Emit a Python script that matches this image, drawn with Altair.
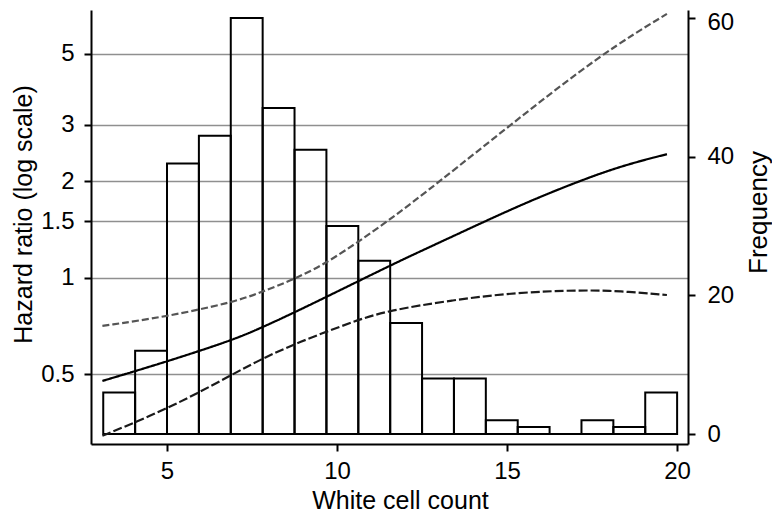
import altair as alt
import pandas as pd

# Histogram of white cell count (frequency, right axis)
bin_lo = [3.125, 4.0625, 5.0, 5.9375, 6.875, 7.8125, 8.75, 9.6875, 10.625,
          11.5625, 12.5, 13.4375, 14.375, 15.3125, 16.25, 17.1875, 18.125, 19.0625]
bin_hi = [4.0625, 5.0, 5.9375, 6.875, 7.8125, 8.75, 9.6875, 10.625, 11.5625,
          12.5, 13.4375, 14.375, 15.3125, 16.25, 17.1875, 18.125, 19.0625, 20.0]
freq = [6, 12, 39, 43, 60, 47, 41, 30, 25, 16, 8, 8, 2, 1, 0, 2, 1, 6]

# Hazard ratio curve and confidence limits (log scale, left axis)
hr_x = [3.1, 5.0, 6.9, 7.7, 8.8, 10.6, 11.9, 13.3, 15.4, 17.1, 18.4, 19.7]
hr_y = [0.476, 0.547, 0.637, 0.692, 0.783, 0.972, 1.136, 1.33, 1.69, 2.0, 2.24, 2.43]
up_x = [3.1, 5.0, 6.9, 7.7, 8.8, 9.8, 11.5, 13.0, 15.1, 17.8, 19.7]
up_y = [0.707, 0.756, 0.836, 0.894, 0.995, 1.125, 1.50, 1.99, 3.0, 5.02, 6.66]
lo_x = [3.1, 4.0, 5.0, 5.9, 6.9, 7.7, 8.8, 10.6, 11.5, 13.4, 15.3, 17.2, 18.3, 19.7]
lo_y = [0.321, 0.351, 0.391, 0.436, 0.497, 0.552, 0.625, 0.738, 0.789, 0.852,
        0.90, 0.915, 0.909, 0.883]

hr_ticks = [0.5, 1, 1.5, 2, 3, 5]
freq_ticks = [0, 20, 40, 60]
x_ticks = [5, 10, 15, 20]

FONT = "Liberation Sans"

bars_df = pd.DataFrame({"lo": bin_lo, "hi": bin_hi, "freq": freq, "base": [0] * len(freq)})
rows = []
for name, xs, ys in [("hr", hr_x, hr_y), ("upper", up_x, up_y), ("lower", lo_x, lo_y)]:
    for xv, yv in zip(xs, ys):
        rows.append({"series": name, "x": xv, "v": yv})
lines_df = pd.DataFrame(rows)

xscale = alt.Scale(domain=[2.765, 20.32], nice=False, zero=False)
xaxis = alt.Axis(values=x_ticks, title="White cell count", grid=False,
                 tickSize=7, tickWidth=2, tickColor="black",
                 domainColor="black", domainWidth=2,
                 labelFontSize=24, labelPadding=8, titleFontSize=25,
                 titleBaseline="alphabetic", titleY=64, titleX=309)

bars = alt.Chart(bars_df).mark_bar(
    fillOpacity=0, stroke="black", strokeWidth=2
).encode(
    x=alt.X("lo:Q", scale=xscale, axis=xaxis),
    x2="hi:Q",
    y=alt.Y("freq:Q",
            scale=alt.Scale(domain=[-1.44, 61.15], nice=False, zero=False),
            axis=alt.Axis(orient="right", values=freq_ticks, title="Frequency", grid=False,
                          tickSize=7, tickWidth=2, tickColor="black",
                          domainColor="black", domainWidth=2,
                          labelFontSize=24, labelPadding=12, titleFontSize=26,
                          labelOffset=alt.condition("datum.value == 60", alt.value(5), alt.value(0)),
                          titleAngle=270, titleBaseline="alphabetic",
                          titleX=78, titleY=202)),
    y2="base:Q",
)

lines = alt.Chart(lines_df).mark_line(strokeWidth=2.2, interpolate="basis").encode(
    x=alt.X("x:Q", scale=xscale, axis=xaxis),
    y=alt.Y("v:Q",
            scale=alt.Scale(type="log", domain=[0.3025, 6.85], nice=False),
            axis=alt.Axis(orient="left", values=hr_ticks, title="Hazard ratio (log scale)",
                          grid=True, gridColor="#8f8f8f", gridWidth=1.4,
                          tickSize=7, tickWidth=2, tickColor="black",
                          domainColor="black", domainWidth=2,
                          labelFontSize=24, labelPadding=10, titleFontSize=25,
                          labelExpr="'' + datum.value",
                          titleAngle=270, titleBaseline="alphabetic",
                          titleX=-60, titleY=204)),
    color=alt.Color("series:N",
                    scale=alt.Scale(domain=["hr", "upper", "lower"],
                                    range=["#000000", "#555555", "#1a1a1a"]),
                    legend=None),
    strokeDash=alt.StrokeDash("series:N",
                              scale=alt.Scale(domain=["hr", "upper", "lower"],
                                              range=[[1, 0], [7, 3], [9, 3]]),
                              legend=None),
)

chart = alt.layer(bars, lines).resolve_scale(y="independent").properties(
    width=597, height=434,
    autosize=alt.AutoSizeParams(type="none"),
    padding={"left": 83, "top": 2, "right": 84, "bottom": 72},
    background="white",
).configure_view(strokeWidth=0).configure_axis(
    labelFont=FONT, titleFont=FONT, labelColor="black", titleColor="black",
    titleFontWeight="normal",
)

chart.save("out.html", embed_options={"renderer": "svg", "actions": False})
